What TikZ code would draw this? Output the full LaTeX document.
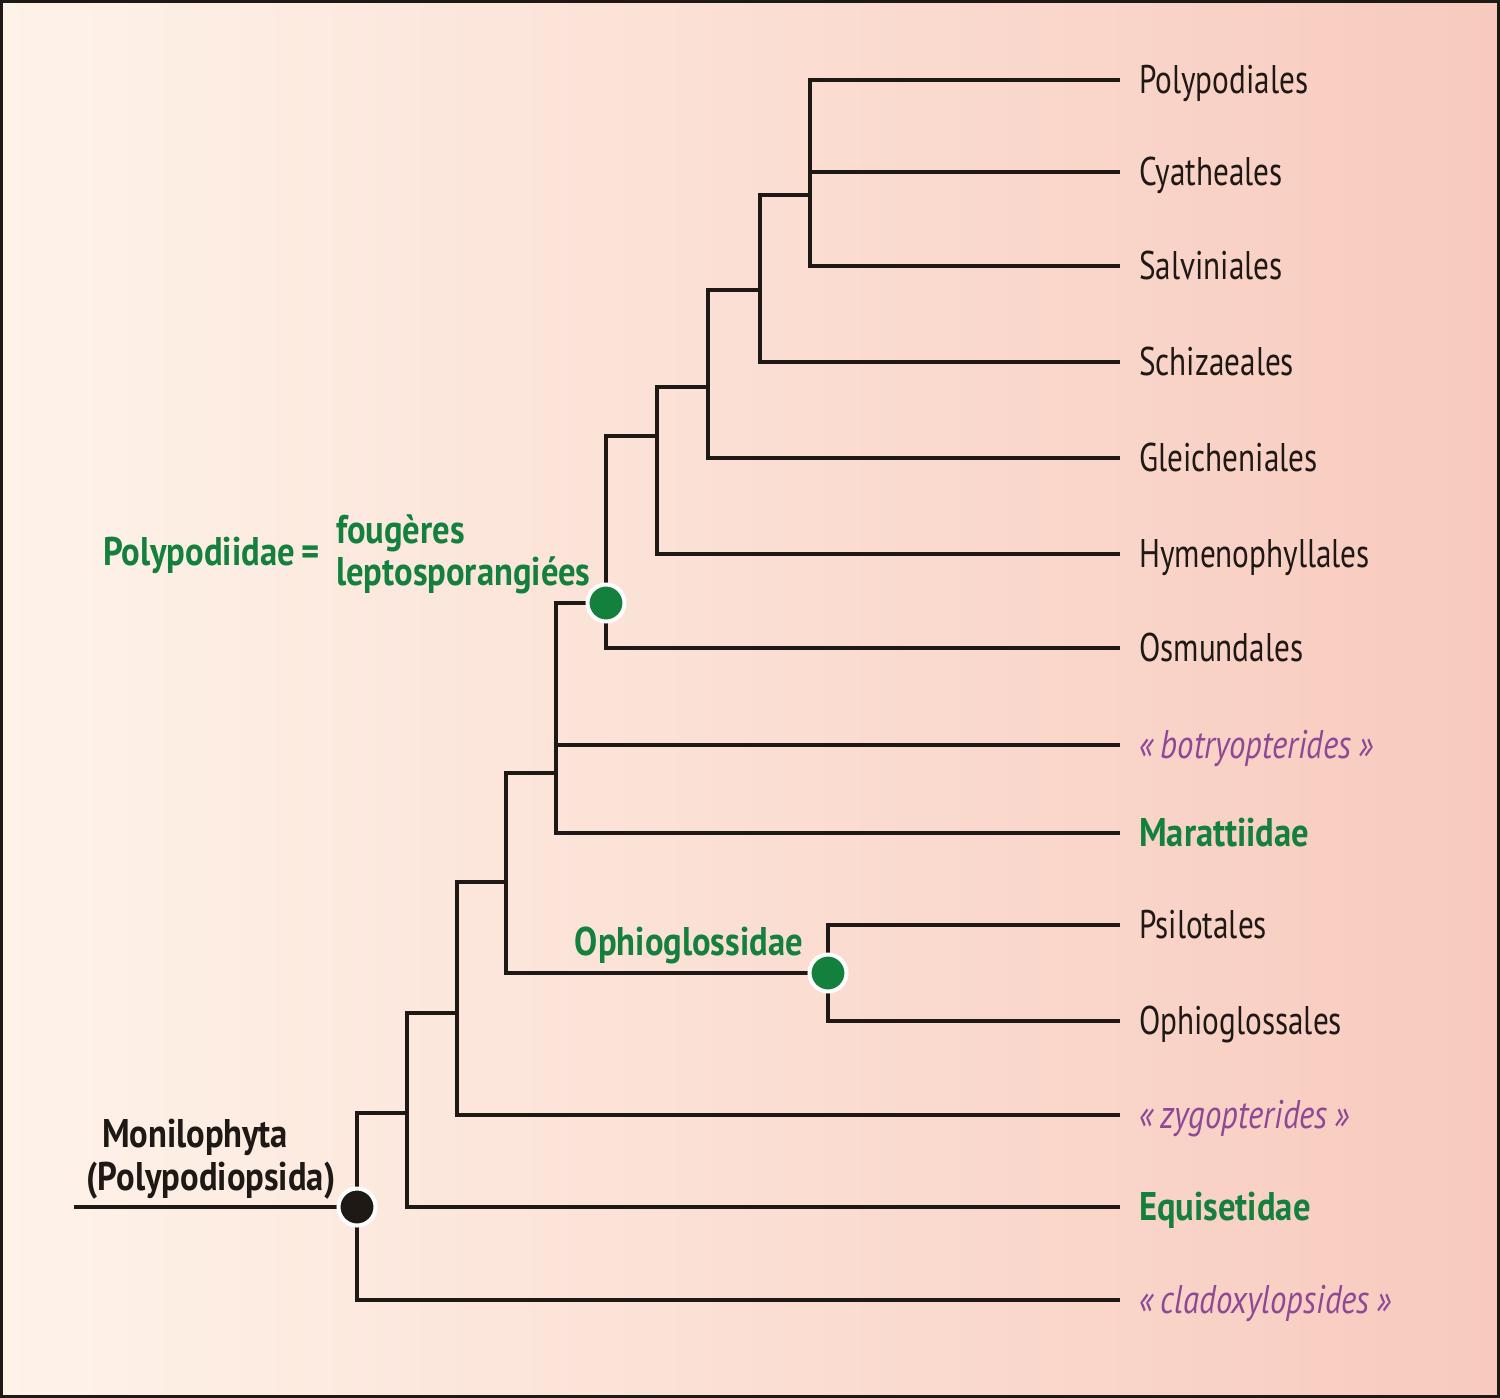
\documentclass[tikz,border=0pt]{standalone}
\usepackage{fontspec}
\setmainfont{PT Sans}[FakeStretch=0.78, BoldFeatures={FakeStretch=0.865}, ItalicFeatures={FakeStretch=0.82}]
\definecolor{linec}{HTML}{1E1915}
\definecolor{grn}{HTML}{14803E}
\definecolor{purp}{HTML}{8E4896}
\definecolor{bgl}{HTML}{FEF3E9}
\definecolor{bgr}{HTML}{F8CABE}
\begin{document}
\begin{tikzpicture}[x=1pt,y=-1pt,
  br/.style={line width=4pt, draw=linec},
  leaf/.style={anchor=base west, inner sep=0pt, font=\fontsize{40}{46}\selectfont, text=linec},
  leafb/.style={leaf, font=\fontsize{40}{46}\selectfont\bfseries, text=grn},
  leafi/.style={leaf, font=\fontsize{40}{46}\selectfont\itshape, text=purp},
  glab/.style={inner sep=0pt, font=\fontsize{40}{46}\selectfont\bfseries, text=grn},
  dot/.style={circle, minimum size=37pt, inner sep=0pt, draw=white, line width=4pt}]
\useasboundingbox (0,0) rectangle (1500,1398);
\shade[left color=bgl, right color=bgr] (0,0) rectangle (1500,1398);
\draw[line width=3pt, draw=linec] (1.5,1.5) rectangle (1498.5,1396.5);
% tips
\coordinate (t1) at (1120,80);
\coordinate (t2) at (1120,172);
\coordinate (t3) at (1120,266);
\coordinate (t4) at (1120,362);
\coordinate (t5) at (1120,458);
\coordinate (t6) at (1120,554);
\coordinate (t7) at (1120,648);
\coordinate (t8) at (1120,745);
\coordinate (t9) at (1120,833);
\coordinate (t10) at (1120,925);
\coordinate (t11) at (1120,1021);
\coordinate (t12) at (1120,1115);
\coordinate (t13) at (1120,1207);
\coordinate (t14) at (1120,1300);
% internal
\coordinate (A) at (810,195);
\coordinate (B) at (760,290);
\coordinate (C) at (708,387);
\coordinate (D) at (657,436);
\coordinate (E) at (606,603);
\coordinate (F) at (556,773);
\coordinate (G) at (828,973);
\coordinate (H) at (506,882);
\coordinate (I) at (457,1013);
\coordinate (J) at (407,1113);
\coordinate (K) at (357,1207);
\coordinate (R) at (74,1207);
% branches
\draw[br] (A) |- (t1); \draw[br] (A) |- (t2); \draw[br] (A) |- (t3);
\draw[br] (B) |- (A); \draw[br] (B) |- (t4);
\draw[br] (C) |- (B); \draw[br] (C) |- (t5);
\draw[br] (D) |- (C); \draw[br] (D) |- (t6);
\draw[br] (E) |- (D); \draw[br] (E) |- (t7);
\draw[br] (F) |- (E); \draw[br] (F) |- (t8); \draw[br] (F) |- (t9);
\draw[br] (G) |- (t10); \draw[br] (G) |- (t11);
\draw[br] (H) |- (F); \draw[br] (H) |- (G);
\draw[br] (I) |- (H); \draw[br] (I) |- (t12);
\draw[br] (J) |- (I); \draw[br] (J) |- (t13);
\draw[br] (K) |- (J); \draw[br] (K) |- (t14);
\draw[br] (R) -- (K);
% dots
\node[dot, fill=grn] (dE) at (E) {};
\node[dot, fill=grn] (dG) at (G) {};
\node[dot, fill=linec] (dK) at (K) {};
% leaf labels
\node[leaf] (l1) at (1139,93) {Polypodiales};
\node[leaf] (l2) at (1139,185) {Cyatheales};
\node[leaf] (l3) at (1139,279) {Salviniales};
\node[leaf] (l4) at (1139,375) {Schizaeales};
\node[leaf] (l5) at (1139,471) {Gleicheniales};
\node[leaf] (l6) at (1139,567) {Hymenophyllales};
\node[leaf] (l7) at (1139,661) {Osmundales};
\node[leafi] (l8) at (1139,758) {«\,botryopterides\,»};
\node[leafb] (l9) at (1139,846) {Marattiidae};
\node[leaf] (l10) at (1139,938) {Psilotales};
\node[leaf] (l11) at (1139,1034) {Ophioglossales};
\node[leafi] (l12) at (1139,1128) {«\,zygopterides\,»};
\node[leafb] (l13) at (1139,1220) {Equisetidae};
\node[leafi] (l14) at (1139,1313) {«\,cladoxylopsides\,»};
% clade labels
\node[glab, anchor=base east] (oph) at (803,955) {Ophioglossidae};
\node[glab, anchor=base east] (poly) at (320,565) {Polypodiidae\,=};
\node[glab, anchor=base west] (foug) at (336,543) {fougères};
\node[glab, anchor=base west] (lept) at (336,585) {leptosporangiées};
\node[glab, text=linec, anchor=base] (mon) at (195,1147) {Monilophyta};
\node[glab, text=linec, anchor=base] (polyd) at (211,1190) {(Polypodiopsida)};
\end{tikzpicture}
\end{document}
